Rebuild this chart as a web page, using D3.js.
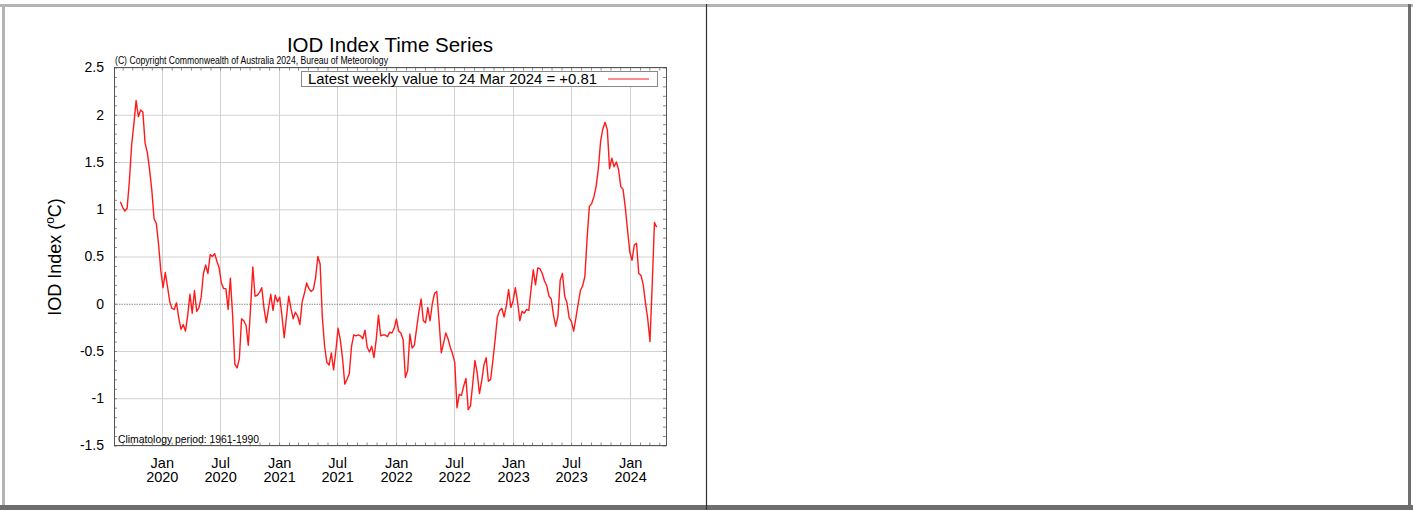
<!DOCTYPE html>
<html>
<head>
<meta charset="utf-8">
<script src="https://cdn.jsdelivr.net/npm/d3@7"></script>
<style>
    body { margin: 0; background: #fff; }
    svg text { font-family: "Liberation Sans", Arial, Helvetica, sans-serif; fill: #000; }
</style>
</head>
<body>
<div id="chart"></div>
<script>
// weekly IOD values, the last one is the week ending 24 Mar 2024
const lastWeek = "2024-03-24";
const iodValues = [
    1.08, 1.02, 0.98, 1.01, 1.30, 1.68, 1.90, 2.15, 1.98, 2.05,
    2.03, 1.70, 1.60, 1.42, 1.20, 0.90, 0.85, 0.63, 0.35, 0.17,
    0.33, 0.18, 0.02, -0.05, -0.06, 0.01, -0.15, -0.27, -0.22, -0.29,
    -0.12, 0.10, -0.10, 0.14, -0.08, -0.04, 0.07, 0.32, 0.41, 0.32,
    0.52, 0.50, 0.53, 0.45, 0.38, 0.22, 0.16, 0.16, -0.06, 0.27,
    -0.12, -0.64, -0.68, -0.58, -0.16, -0.18, -0.23, -0.44, -0.05, 0.39,
    0.08, 0.09, 0.12, 0.17, -0.05, -0.20, -0.05, 0.10, -0.07, 0.09,
    0.02, 0.07, -0.13, -0.36, -0.14, 0.08, -0.05, -0.16, -0.09, -0.13,
    -0.22, 0.02, 0.11, 0.22, 0.16, 0.13, 0.15, 0.28, 0.50, 0.42,
    -0.15, -0.45, -0.62, -0.65, -0.52, -0.70, -0.50, -0.26, -0.38, -0.58,
    -0.85, -0.80, -0.74, -0.45, -0.33, -0.34, -0.33, -0.34, -0.37, -0.28,
    -0.46, -0.51, -0.45, -0.57, -0.38, -0.12, -0.34, -0.33, -0.33, -0.35,
    -0.30, -0.31, -0.26, -0.16, -0.29, -0.31, -0.38, -0.78, -0.71, -0.32,
    -0.47, -0.44, -0.26, -0.09, 0.05, -0.18, -0.20, -0.04, -0.18, 0.00,
    0.11, 0.13, -0.18, -0.52, -0.42, -0.31, -0.37, -0.46, -0.53, -0.62,
    -1.10, -0.96, -0.97, -0.87, -0.79, -1.12, -1.08, -0.85, -0.60, -0.73,
    -0.95, -0.82, -0.65, -0.57, -0.82, -0.80, -0.60, -0.38, -0.14, -0.07,
    -0.05, -0.14, -0.02, 0.15, -0.04, 0.03, 0.17, 0.02, -0.18, -0.08,
    -0.10, -0.06, -0.07, 0.15, 0.36, 0.20, 0.38, 0.37, 0.32, 0.24,
    0.19, 0.08, 0.05, -0.12, -0.24, -0.13, 0.25, 0.32, 0.08, 0.01,
    -0.15, -0.19, -0.29, -0.15, 0.00, 0.14, 0.19, 0.29, 0.70, 1.03,
    1.06, 1.13, 1.24, 1.43, 1.72, 1.85, 1.92, 1.84, 1.43, 1.54,
    1.45, 1.50, 1.42, 1.24, 1.21, 1.02, 0.78, 0.55, 0.46, 0.62,
    0.64, 0.32, 0.30, 0.20, 0.01, -0.16, -0.40, 0.20, 0.86, 0.81
];

const yDomain = [-1.5, 2.5];
const yTicks = [2.5, 2, 1.5, 1, 0.5, 0, -0.5, -1, -1.5];
const yTickLabels = ["2.5", "2", "1.5", "1", "0.5", "0", "-0.5", "-1", "-1.5"];

const xDomain = ["2019-08-05", "2024-04-22"];
const xTickDates = ["2020-01-01", "2020-07-01", "2021-01-01", "2021-07-01", "2022-01-01",
                    "2022-07-01", "2023-01-01", "2023-07-01", "2024-01-01"];
const xTickMonths = ["Jan", "Jul", "Jan", "Jul", "Jan", "Jul", "Jan", "Jul", "Jan"];
const xTickYears = ["2020", "2020", "2021", "2021", "2022", "2022", "2023", "2023", "2024"];

const titleText = "IOD Index Time Series";
const copyrightText = "(C) Copyright Commonwealth of Australia 2024, Bureau of Meteorology";
const legendText = "Latest weekly value to 24 Mar 2024 = +0.81";
const climText = "Climatology period: 1961-1990";

const width = 1413, height = 510;
const plot = { left: 114, right: 666, top: 67.5, bottom: 445.5 };

const parse = d3.utcParse("%Y-%m-%d");

const svg = d3.select("#chart").append("svg")
    .attr("width", width)
    .attr("height", height)
    .style("display", "block");

// page frame (table style border + the divider between the two cells)
svg.append("rect").attr("x", 0).attr("y", 4).attr("width", width).attr("height", 3).attr("fill", "#b4b4b4");
svg.append("rect").attr("x", 2).attr("y", 4).attr("width", 3).attr("height", height - 4).attr("fill", "#b4b4b4");
svg.append("rect").attr("x", 1408).attr("y", 4).attr("width", 3).attr("height", height - 4).attr("fill", "#6e6e6e");
svg.append("rect").attr("x", 0).attr("y", 505).attr("width", width).attr("height", 5).attr("fill", "#6e6e6e");
svg.append("line").attr("x1", 706.5).attr("x2", 706.5).attr("y1", 4).attr("y2", height)
    .attr("stroke", "#333").attr("stroke-width", 1.2);

const x = d3.scaleUtc().domain(xDomain.map(parse)).range([plot.left, plot.right]);
const y = d3.scaleLinear().domain(yDomain).range([plot.bottom, plot.top]);

const end = parse(lastWeek);
const series = iodValues.map((v, i) => ({
    date: d3.utcWeek.offset(end, i - (iodValues.length - 1)),
    value: v
}));

// grid lines
svg.append("g")
    .selectAll("line")
    .data(yTicks.filter(d => d !== 0))
    .enter().append("line")
    .attr("x1", plot.left).attr("x2", plot.right)
    .attr("y1", d => y(d) + 0.5).attr("y2", d => y(d) + 0.5)
    .attr("stroke", "#d2d2d2");

svg.append("g")
    .selectAll("line")
    .data(xTickDates.map(parse))
    .enter().append("line")
    .attr("x1", d => Math.round(x(d)) + 0.5).attr("x2", d => Math.round(x(d)) + 0.5)
    .attr("y1", plot.top).attr("y2", plot.bottom)
    .attr("stroke", "#d2d2d2");

// dotted zero line
svg.append("line")
    .attr("x1", plot.left).attr("x2", plot.right)
    .attr("y1", y(0) + 0.5).attr("y2", y(0) + 0.5)
    .attr("stroke", "#8a8a8a")
    .attr("stroke-dasharray", "1.5,1");

// minor ticks inside the frame: every 0.1 on the sides, every month top and bottom
const minorY = d3.range(-15, 26).map(d => d / 10);
const months = d3.utcMonth.range(x.domain()[0], x.domain()[1]);

function tidy(g) {
    g.select(".domain").remove();
    g.selectAll(".tick line").attr("stroke", "#8a8a8a");
}

svg.append("g").attr("transform", `translate(${plot.left},0)`)
    .call(d3.axisLeft(y).tickValues(minorY).tickSize(-3).tickFormat(""))
    .call(tidy);
svg.append("g").attr("transform", `translate(${plot.right},0)`)
    .call(d3.axisRight(y).tickValues(minorY).tickSize(-3).tickFormat(""))
    .call(tidy);
svg.append("g").attr("transform", `translate(0,${plot.bottom})`)
    .call(d3.axisBottom(x).tickValues(months).tickSize(-3).tickFormat(""))
    .call(tidy);
svg.append("g").attr("transform", `translate(0,${plot.top})`)
    .call(d3.axisTop(x).tickValues(months).tickSize(-3).tickFormat(""))
    .call(tidy);

// the IOD line
const line = d3.line()
    .x(d => x(d.date))
    .y(d => y(d.value));

svg.append("path")
    .datum(series)
    .attr("fill", "none")
    .attr("stroke", "#ff1a1a")
    .attr("stroke-width", 1.4)
    .attr("stroke-linejoin", "round")
    .attr("d", line);

// plot frame
svg.append("rect")
    .attr("x", plot.left + 0.5).attr("y", plot.top)
    .attr("width", plot.right - plot.left).attr("height", plot.bottom - plot.top)
    .attr("fill", "none")
    .attr("stroke", "#555");

// y tick labels
const yAxis = svg.append("g")
    .attr("transform", `translate(${plot.left},0)`)
    .call(d3.axisLeft(y).tickValues(yTicks).tickSize(0).tickPadding(10)
        .tickFormat((d, i) => yTickLabels[i]));
yAxis.select(".domain").remove();
yAxis.selectAll("text")
    .style("font-family", "'Liberation Sans', Arial, sans-serif")
    .style("font-size", "14px")
    .attr("fill", "#000");

// x tick labels, month over year
const xAxis = svg.append("g")
    .attr("transform", `translate(0,${plot.bottom})`)
    .call(d3.axisBottom(x).tickValues(xTickDates.map(parse)).tickSize(0).tickFormat(""));
xAxis.select(".domain").remove();
xAxis.selectAll(".tick text").remove();
xAxis.selectAll(".tick").each(function(d, i) {
    const t = d3.select(this).append("text")
        .attr("text-anchor", "middle")
        .style("font-size", "14.5px");
    t.append("tspan").attr("x", 0).attr("y", 22).text(xTickMonths[i]);
    t.append("tspan").attr("x", 0).attr("y", 36).text(xTickYears[i]);
});

// titles and notes
svg.append("text")
    .attr("x", 390).attr("y", 52)
    .attr("text-anchor", "middle")
    .style("font-size", "20.5px")
    .text(titleText);

svg.append("text")
    .attr("x", 115).attr("y", 64)
    .attr("textLength", 273)
    .attr("lengthAdjust", "spacingAndGlyphs")
    .style("font-size", "10.5px")
    .text(copyrightText);

svg.append("text")
    .attr("x", 118).attr("y", 442.5)
    .attr("textLength", 141)
    .attr("lengthAdjust", "spacingAndGlyphs")
    .style("font-size", "10px")
    .text(climText);

// y axis title with the superscript degree
const yLabel = svg.append("text")
    .attr("transform", "translate(61,257) rotate(-90)")
    .attr("text-anchor", "middle")
    .style("font-size", "18px");
yLabel.append("tspan").text("IOD Index (");
yLabel.append("tspan").attr("dy", -7).style("font-size", "12px").text("o");
yLabel.append("tspan").attr("dy", 7).text("C)");

// legend
const legend = svg.append("g");
legend.append("rect")
    .attr("x", 301.5).attr("y", 71.5)
    .attr("width", 356).attr("height", 15)
    .attr("fill", "#fff")
    .attr("stroke", "#888");
legend.append("text")
    .attr("x", 308).attr("y", 84)
    .attr("textLength", 289)
    .attr("lengthAdjust", "spacingAndGlyphs")
    .style("font-size", "14.5px")
    .text(legendText);
legend.append("line")
    .attr("x1", 608).attr("x2", 649)
    .attr("y1", 79).attr("y2", 79)
    .attr("stroke", "#ff1a1a")
    .attr("stroke-width", 1.2);
</script>
</body>
</html>
